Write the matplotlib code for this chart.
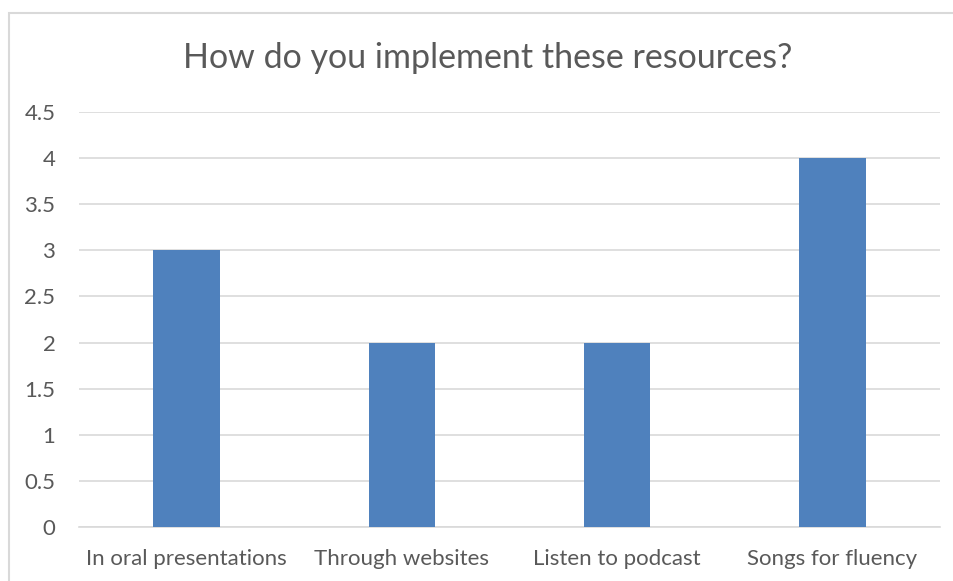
import matplotlib
matplotlib.use("Agg")
import matplotlib.pyplot as plt
from matplotlib.patches import Rectangle

categories = ["In oral presentations", "Through websites", "Listen to podcast", "Songs for fluency"]
values = [3, 2, 2, 4]
yticks = [0, 0.5, 1, 1.5, 2, 2.5, 3, 3.5, 4, 4.5]
ytick_labels = ["0", "0.5", "1", "1.5", "2", "2.5", "3", "3.5", "4", "4.5"]

plt.rcParams["font.family"] = ["Lato", "DejaVu Sans"]
text_color = "#595959"
grid_color = "#D9D9D9"

W, H = 954, 581
fig = plt.figure(figsize=(W / 100, H / 100), dpi=100)
ax = fig.add_axes([79 / W, 54 / H, (940 - 79) / W, (527 - 112) / H])

# outer chart border
fig.patches.append(Rectangle((9 / W, -0.1), 1.1, (H - 13) / H + 0.1,
                             transform=fig.transFigure, fill=False,
                             edgecolor=grid_color, linewidth=1.5))

x = range(len(categories))
ax.bar(x, values, width=0.31, color="#4F81BD", zorder=3)

ax.set_xlim(-0.5, len(categories) - 0.5)
ax.set_ylim(0, 4.5)
ax.set_yticks(yticks)
ax.set_yticklabels(ytick_labels)
ax.set_xticks(list(x))
ax.set_xticklabels(categories)

ax.yaxis.grid(True, color=grid_color, linewidth=1.2, zorder=0)
for s in ["top", "right", "left"]:
    ax.spines[s].set_visible(False)
ax.spines["bottom"].set_color(grid_color)
ax.spines["bottom"].set_linewidth(1.2)
ax.tick_params(axis="both", length=0, labelsize=16, colors=text_color)
ax.tick_params(axis="y", pad=17)
ax.tick_params(axis="x", pad=16)

fig.text(488 / W, 1 - 58 / H, "How do you implement these resources?",
         ha="center", va="center", fontsize=24.5, color=text_color)

fig.savefig("out.png", dpi=100)
